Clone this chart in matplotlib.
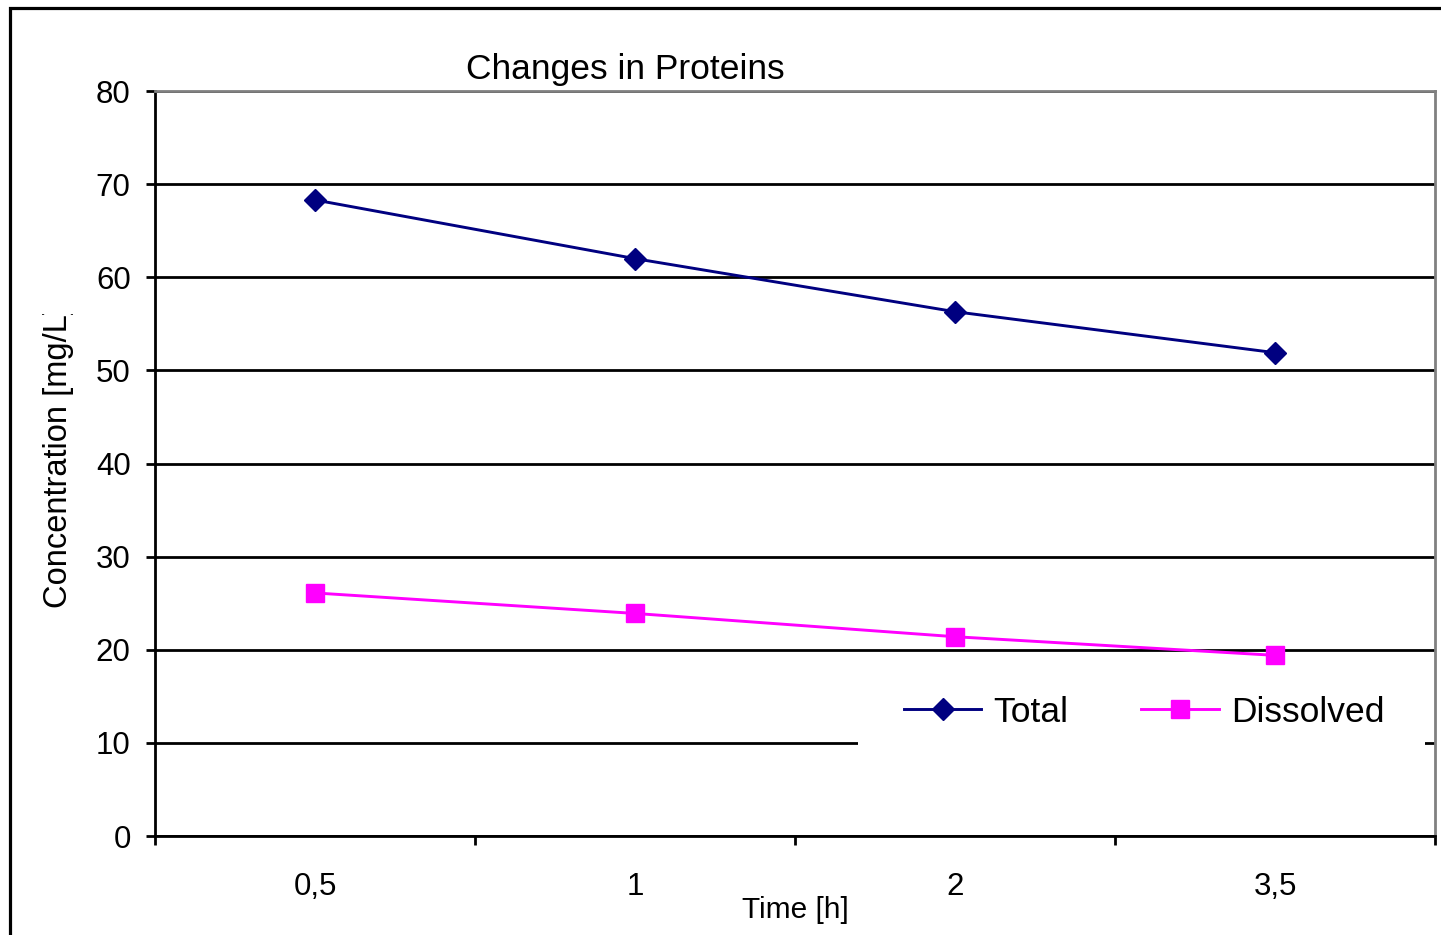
import matplotlib
matplotlib.use("Agg")
import matplotlib.pyplot as plt
import numpy as np
from matplotlib.patches import Rectangle
from matplotlib.transforms import Bbox, TransformedBbox

plt.rcParams['font.family'] = ['Liberation Sans', 'DejaVu Sans']

# data
time_labels = ['0,5', '1', '2', '3,5']
total = [68.3, 62.0, 56.3, 51.9]
dissolved = [26.1, 23.9, 21.4, 19.4]
y_ticks = [0, 10, 20, 30, 40, 50, 60, 70, 80]

W, H = 1441, 935
fig = plt.figure(figsize=(W / 100, H / 100), dpi=100)
ax = fig.add_axes([155 / W, 1 - 836 / H, 1280 / W, 745 / H])

x = np.arange(len(time_labels)) + 0.5

ax.plot(x, total, color='#000080', lw=2.1, marker='D', ms=11.5,
        label='Total', zorder=3, clip_on=False)
ax.plot(x, dissolved, color='#FF00FF', lw=2.1, marker='s', ms=13,
        label='Dissolved', zorder=3, clip_on=False)

ax.set_xlim(0, len(time_labels))
ax.set_ylim(0, 80)
ax.set_yticks(y_ticks)
ax.set_axisbelow(True)
ax.grid(axis='y', color='black', lw=2)

# category labels sit between the boundary ticks
ax.set_xticks(np.arange(len(time_labels) + 1))
ax.set_xticklabels([])
ax.set_xticks(x, minor=True)
ax.set_xticklabels(time_labels, minor=True)
ax.tick_params(axis='x', which='major', direction='out', length=6.5, width=2, color='black')
ax.tick_params(axis='x', which='minor', length=0, pad=26, labelsize=22.5)
ax.tick_params(axis='y', direction='out', length=6.5, width=2, pad=11, labelsize=22.5)

for side in ['left', 'bottom']:
    ax.spines[side].set_color('black')
    ax.spines[side].set_linewidth(2)
for side in ['top', 'right']:
    ax.spines[side].set_color('#808080')
    ax.spines[side].set_linewidth(2)

# white legend area covering the gridline
ax.add_patch(Rectangle((0.549, 0.004), 0.443, 0.241, transform=ax.transAxes,
                       facecolor='white', edgecolor='none', zorder=1))
ax.legend(loc='center', bbox_to_anchor=(0.7727, 0.166), ncol=2, frameon=False,
          fontsize=25.5, handlelength=2.2, handletextpad=0.34, columnspacing=2.05,
          borderaxespad=0)

fig.text(625 / W, 1 - 69 / H, 'Changes in Proteins', fontsize=25.5,
         ha='center', va='center')
fig.text(795 / W, 1 - 910 / H, 'Time [h]', fontsize=21.5, ha='center', va='center')
ylab = fig.text(59 / W, 1 - 608 / H, 'Concentration [mg/L]', fontsize=23.5,
                rotation=90, ha='center', va='bottom')
ylab.set_clip_box(TransformedBbox(Bbox([[0, 0], [1, 1 - 314 / H]]), fig.transFigure))
ylab.set_clip_on(True)

# outer chart frame, running off the right and bottom edges
fig.patches.append(Rectangle((10 / W, -0.1), 1.2, 1.1 - 8 / H, transform=fig.transFigure,
                             facecolor='none', edgecolor='black', lw=2.3))

fig.savefig('out.png', dpi=100)
